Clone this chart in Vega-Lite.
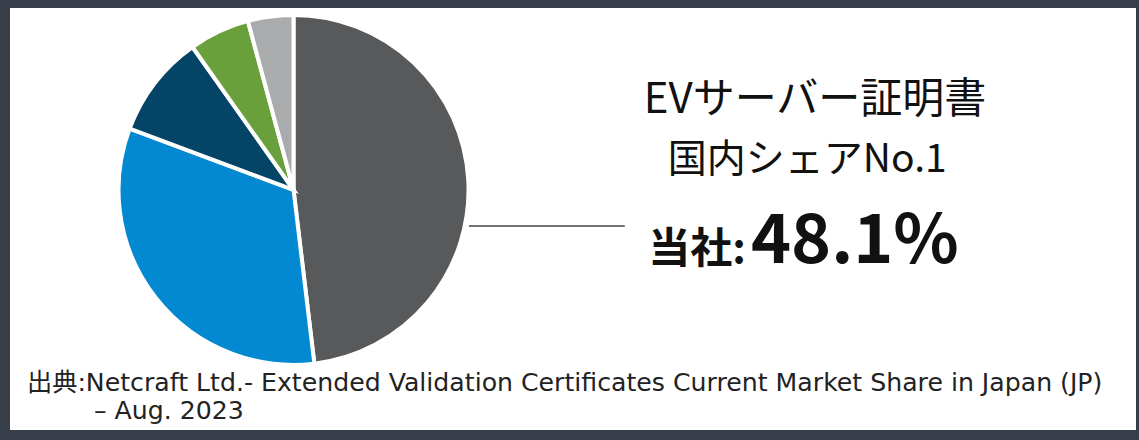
{
  "$schema": "https://vega.github.io/schema/vega-lite/v6.json",
  "width": 1139,
  "height": 440,
  "autosize": {"type": "fit", "contains": "padding"},
  "padding": {"left": 10, "top": 8, "right": 3, "bottom": 10},
  "background": "#373e49",
  "config": {"view": {"stroke": null, "fill": "white"}, "font": "Noto Sans CJK JP"},
  "datasets": {
    "share": [
      {"company": "当社", "rank": 1, "share": 48.1},
      {"company": "他社A", "rank": 2, "share": 32.6},
      {"company": "他社B", "rank": 3, "share": 9.5},
      {"company": "他社C", "rank": 4, "share": 5.6},
      {"company": "その他", "rank": 5, "share": 4.2}
    ],
    "one": [{}]
  },
  "layer": [
    {
      "data": {"name": "share"},
      "mark": {"type": "arc", "outerRadius": 175, "stroke": "white", "strokeWidth": 4},
      "encoding": {
        "x": {"datum": 0.2518, "type": "quantitative", "scale": {"domain": [0, 1]}, "axis": null},
        "y": {"datum": 0.569, "type": "quantitative", "scale": {"domain": [0, 1]}, "axis": null},
        "theta": {"field": "share", "type": "quantitative", "stack": true},
        "order": {"field": "rank", "type": "quantitative"},
        "color": {
          "field": "company", "type": "nominal", "legend": null,
          "scale": {"domain": ["当社", "他社A", "他社B", "他社C", "その他"],
                    "range": ["#58595b", "#0389d2", "#044466", "#6aa03c", "#a9abad"]}
        }
      }
    },
    {
      "data": {"name": "one"},
      "mark": {"type": "rule", "color": "#444444", "strokeWidth": 1.5},
      "encoding": {
        "x": {"datum": 0.4076, "type": "quantitative"},
        "x2": {"datum": 0.546},
        "y": {"datum": 0.4834, "type": "quantitative"}
      }
    },
    {
      "data": {"name": "one"},
      "mark": {"type": "text", "fontSize": 42, "align": "center", "baseline": "middle", "color": "#111111"},
      "encoding": {
        "x": {"datum": 0.715, "type": "quantitative"},
        "y": {"datum": 0.782, "type": "quantitative"},
        "text": {"value": "EVサーバー証明書"}
      }
    },
    {
      "data": {"name": "one"},
      "mark": {"type": "text", "fontSize": 39, "align": "center", "baseline": "middle", "color": "#111111"},
      "encoding": {
        "x": {"datum": 0.708, "type": "quantitative"},
        "y": {"datum": 0.64, "type": "quantitative"},
        "text": {"value": "国内シェアNo.1"}
      }
    },
    {
      "data": {"name": "one"},
      "mark": {"type": "text", "fontSize": 42, "fontWeight": "bold", "align": "right", "baseline": "alphabetic", "color": "#111111"},
      "encoding": {
        "x": {"datum": 0.6535, "type": "quantitative"},
        "y": {"datum": 0.3957, "type": "quantitative"},
        "text": {"value": "当社:"}
      }
    },
    {
      "data": {"name": "one"},
      "mark": {"type": "text", "fontSize": 68, "fontWeight": "bold", "align": "left", "baseline": "alphabetic", "color": "#111111"},
      "encoding": {
        "x": {"datum": 0.658, "type": "quantitative"},
        "y": {"datum": 0.3957, "type": "quantitative"},
        "text": {"value": "48.1%"}
      }
    },
    {
      "data": {"name": "one"},
      "mark": {"type": "text", "fontSize": 25.2, "align": "left", "baseline": "alphabetic", "color": "#222222", "font": "DejaVu Sans, Noto Sans CJK JP"},
      "encoding": {
        "x": {"datum": 0.0151, "type": "quantitative"},
        "y": {"datum": 0.092, "type": "quantitative"},
        "text": {"value": "出典:Netcraft Ltd.- Extended Validation Certificates Current Market Share in Japan (JP)"}
      }
    },
    {
      "data": {"name": "one"},
      "mark": {"type": "text", "fontSize": 25.2, "align": "left", "baseline": "alphabetic", "color": "#222222", "font": "DejaVu Sans, Noto Sans CJK JP"},
      "encoding": {
        "x": {"datum": 0.0746, "type": "quantitative"},
        "y": {"datum": 0.025, "type": "quantitative"},
        "text": {"value": "– Aug. 2023"}
      }
    }
  ]
}
